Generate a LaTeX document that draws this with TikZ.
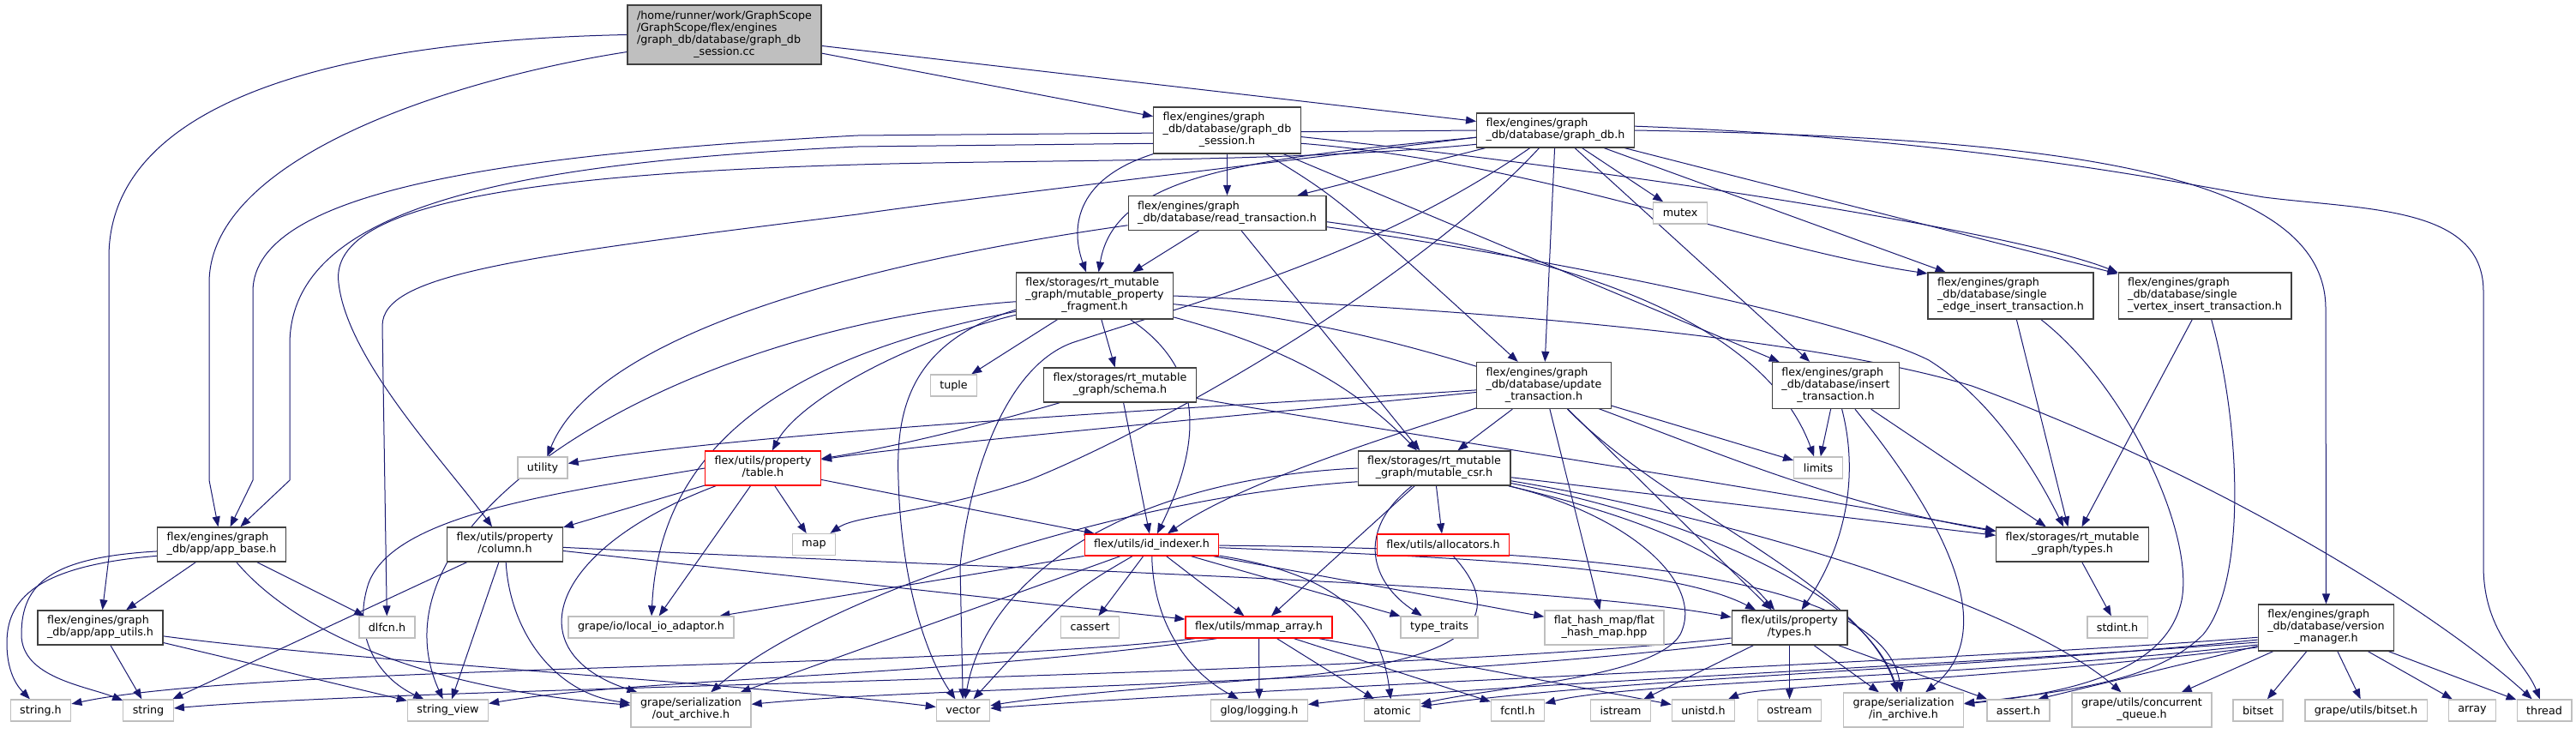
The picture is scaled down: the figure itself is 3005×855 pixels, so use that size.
\documentclass[tikz,border=0pt]{standalone}
\usepackage{fontspec}
\setmainfont{DejaVu Sans}
\usepackage{tikz}
\usetikzlibrary{arrows.meta,backgrounds}
\definecolor{azulenlace}{RGB}{25,25,112}
\definecolor{grisborde}{RGB}{64,64,64}
\definecolor{grisclaro}{RGB}{191,191,191}
\newcommand{\gfont}{\fontsize{12.7}{14}\selectfont}
\newcommand{\flab}[1]{\begin{tabular}{@{}l@{}}#1\end{tabular}}
\newcommand{\ctr}[1]{\multicolumn{1}{@{}c@{}}{#1}}

\begin{document}
\begin{tikzpicture}[x=1pt, y=-1pt, >={Triangle[length=12pt,width=9pt]},
    fnode/.style={draw=grisborde, line width=1.3pt, fill=white, font=\gfont,
      inner xsep=11pt, inner ysep=0pt, minimum height=25pt},
    snode/.style={fnode, draw=grisclaro},
    rnode/.style={fnode, draw=red},
    rootn/.style={fnode, fill=grisclaro, minimum height=69pt},
    two/.style={minimum height=40pt},
    three/.style={minimum height=54pt},
    inc/.style={->, draw=azulenlace, line width=1pt}]
    \useasboundingbox (0,0) rectangle (3005,855);
    % fichero de partida
    \node[rootn] (root) at (845,40.5) {\flab{/home/runner/work/GraphScope\\/GraphScope/flex/engines\\/graph\_db/database/graph\_db\\\ctr{\_session.cc}}};
    % cabeceras de la base de datos
    \node[fnode,three] (sess) at (1431.5,152) {\flab{flex/engines/graph\\\_db/database/graph\_db\\\ctr{\_session.h}}};
    \node[fnode,two] (gdb) at (1814.5,152) {\flab{flex/engines/graph\\\_db/database/graph\_db.h}};
    \node[fnode,two] (readtx) at (1431.5,248.5) {\flab{flex/engines/graph\\\_db/database/read\_transaction.h}};
    \node[snode] (mutex) at (1960,248.5) {mutex};
    \node[fnode,three] (mpf) at (1277,345) {\flab{flex/storages/rt\_mutable\\\_graph/mutable\_property\\\ctr{\_fragment.h}}};
    \node[fnode,three] (sedge) at (2345.5,345) {\flab{flex/engines/graph\\\_db/database/single\\\ctr{\_edge\_insert\_transaction.h}}};
    \node[fnode,three] (svert) at (2572,345) {\flab{flex/engines/graph\\\_db/database/single\\\ctr{\_vertex\_insert\_transaction.h}}};
    \node[snode] (tuple) at (1112.5,449.5) {tuple};
    \node[fnode,two] (schema) at (1306.5,449) {\flab{flex/storages/rt\_mutable\\\ctr{\_graph/schema.h}}};
    \node[fnode,three] (update) at (1801,449.5) {\flab{flex/engines/graph\\\_db/database/update\\\ctr{\_transaction.h}}};
    \node[fnode,three] (insert) at (2141.5,449.5) {\flab{flex/engines/graph\\\_db/database/insert\\\ctr{\_transaction.h}}};
    % fila media
    \node[fnode,two] (mcsr) at (1673,546) {\flab{flex/storages/rt\_mutable\\\ctr{\_graph/mutable\_csr.h}}};
    \node[snode] (limits) at (2121,545.5) {limits};
    \node[snode] (utility) at (633,545.5) {utility};
    \node[rnode,two] (table) at (890,546) {\flab{flex/utils/property\\\ctr{/table.h}}};
    \node[snode] (map) at (949.5,635) {map};
    \node[fnode,two] (appbase) at (258.5,635) {\flab{flex/engines/graph\\\_db/app/app\_base.h}};
    \node[fnode,two] (column) at (589,635) {\flab{flex/utils/property\\\ctr{/column.h}}};
    \node[rnode] (idx) at (1343.5,635.5) {flex/utils/id\_indexer.h};
    \node[rnode] (alloc) at (1683.5,635.5) {flex/utils/allocators.h};
    \node[fnode,two] (rtypes) at (2417.5,635) {\flab{flex/storages/rt\_mutable\\\ctr{\_graph/types.h}}};
    \node[fnode,two] (apputils) at (117,732) {\flab{flex/engines/graph\\\_db/app/app\_utils.h}};
    \node[snode] (dlfcn) at (451.5,731.5) {dlfcn.h};
    \node[snode] (lio) at (759.5,731.5) {grape/io/local\_io\_adaptor.h};
    \node[snode] (cassert) at (1271.5,731.5) {cassert};
    \node[rnode] (mmap) at (1468.5,731.5) {flex/utils/mmap\_array.h};
    \node[snode] (ttraits) at (1679,731.5) {type\_traits};
    \node[snode,two] (fhm) at (1871.5,732) {\flab{flat\_hash\_map/flat\\\ctr{\_hash\_map.hpp}}};
    \node[fnode,two] (ptypes) at (2087.5,732) {\flab{flex/utils/property\\\ctr{/types.h}}};
    \node[snode] (stdint) at (2470,731.5) {stdint.h};
    \node[fnode,three] (vm) at (2713.5,732) {\flab{flex/engines/graph\\\_db/database/version\\\ctr{\_manager.h}}};
    % cabeceras del sistema y de grape (fila inferior)
    \node[snode] (strh) at (47.5,828.5) {string.h};
    \node[snode] (string) at (173,828.5) {string};
    \node[snode] (sview) at (522.5,828.5) {string\_view};
    \node[snode,two] (oarch) at (806,828) {\flab{grape/serialization\\\ctr{/out\_archive.h}}};
    \node[snode] (vector) at (1123.5,828.5) {vector};
    \node[snode] (glog) at (1469,828.5) {glog/logging.h};
    \node[snode] (atomic) at (1624,828.5) {atomic};
    \node[snode] (fcntl) at (1770.5,828.5) {fcntl.h};
    \node[snode] (istream) at (1890.5,828.5) {istream};
    \node[snode] (unistd) at (1987,828.5) {unistd.h};
    \node[snode] (ostream) at (2087.5,828.5) {ostream};
    \node[snode,two] (iarch) at (2220.5,828) {\flab{grape/serialization\\\ctr{/in\_archive.h}}};
    \node[snode] (asserth) at (2354.5,828.5) {assert.h};
    \node[snode,two] (cqueue) at (2498.5,828) {\flab{grape/utils/concurrent\\\ctr{\_queue.h}}};
    \node[snode] (bitset) at (2634,828.5) {bitset};
    \node[snode] (gbitset) at (2760,828.5) {grape/utils/bitset.h};
    \node[snode] (array) at (2884,828.5) {array};
    \node[snode] (thread) at (2968,828.5) {thread};

    \begin{pgfonlayer}{background}
    % includes del .cc
    \draw[inc] (root) -- (sess);
    \draw[inc] (root) -- (gdb);
    \draw[inc] (root.west) .. controls (360,48) and (127,130) .. (127,300) -- (127,650) -- (apputils);
    \draw[inc] (root.190) .. controls (540,90) and (244,180) .. (244,330) -- (244,560) -- (appbase);
    % graph_db_session.h
    \draw[inc] (sess) -- (readtx);
    \draw[inc] (sess) .. controls (1250,210) and (1250,270) .. (mpf);
    \draw[inc] (sess.190) -- (1000,171) .. controls (600,190) and (340,240) .. (338,400) -- (338,560) -- (appbase);
    \draw[inc] (sess) .. controls (1560,230) .. (update);
    \draw[inc] (sess) -- (insert);
    \draw[inc] (sess.-10) .. controls (1800,190) and (2050,290) .. (sedge.165);
    \draw[inc] (sess.-5) .. controls (1900,200) and (2350,270) .. (svert.165);
    % graph_db.h
    \draw[inc] (gdb) -- (readtx);
    \draw[inc] (gdb) -- (mutex);
    \draw[inc] (gdb) .. controls (1450,185) and (1300,205) .. (mpf);
    \draw[inc] (gdb) -- (update);
    \draw[inc] (gdb) -- (insert);
    \draw[inc] (gdb) -- (sedge);
    \draw[inc] (gdb) -- (svert);
    \draw[inc] (gdb.west) -- (1000,158) .. controls (600,180) and (295,220) .. (295,340) -- (295,560) -- (appbase);
    \draw[inc] (gdb.190) .. controls (1500,190) and (1200,186) .. (1000,192) .. controls (550,205) and (385,250) .. (395,330) .. controls (405,420) and (520,540) .. (column);
    \draw[inc] (gdb.185) .. controls (1400,200) and (1100,235) .. (1000,250) .. controls (600,300) and (446,320) .. (446,380) -- (dlfcn);
    \draw[inc] (gdb.east) .. controls (2400,160) and (2713,200) .. (2713,360) -- (vm);
    \draw[inc] (gdb.3) .. controls (2300,162) and (2550,215) .. (2641,230) .. controls (2760,245) and (2897,240) .. (2897,340) -- (2897,660) .. controls (2897,740) and (2945,770) .. (thread);
    \draw[inc] (gdb) .. controls (1600,300) and (1400,350) .. (1250,400) .. controls (1170,430) and (1130,560) .. (1120,660) -- (vector);
    \draw[inc] (gdb) .. controls (1650,330) and (1350,500) .. (1200,560) .. controls (1080,600) and (1000,600) .. (map);
    % read_transaction.h
    \draw[inc] (readtx) -- (mpf);
    \draw[inc] (readtx) -- (mcsr);
    \draw[inc] (readtx.187) .. controls (1050,300) and (700,380) .. (utility);
    \draw[inc] (readtx) .. controls (1800,300) and (2150,370) .. (2250,420) .. controls (2330,470) and (2380,560) .. (rtypes);
    \draw[inc] (readtx.-5) .. controls (1850,300) and (2060,380) .. (limits);
    % mutable_property_fragment.h
    \draw[inc] (mpf) -- (tuple);
    \draw[inc] (mpf) -- (schema);
    \draw[inc] (mpf) .. controls (1480,400) and (1570,440) .. (mcsr);
    \draw[inc] (mpf) .. controls (1420,440) and (1390,540) .. (idx);
    \draw[inc] (mpf) .. controls (1050,400) and (930,470) .. (table);
    \draw[inc] (mpf.190) .. controls (1060,400) and (1045,480) .. (1048,560) .. controls (1052,700) and (1090,780) .. (vector);
    \draw[inc] (mpf) .. controls (950,410) and (770,500) .. (lio);
    \draw[inc] (mpf) .. controls (800,380) and (420,600) .. (sview);
    \draw[inc] (mpf.east) .. controls (1700,360) and (2100,390) .. (2300,450) .. controls (2600,560) and (2850,720) .. (thread);
    \draw[inc] (mpf) .. controls (1800,400) and (1980,560) .. (rtypes);
    % schema.h
    \draw[inc] (schema) -- (idx);
    \draw[inc] (schema) .. controls (1150,495) and (1050,520) .. (table);
    \draw[inc] (schema) .. controls (1600,500) and (2000,560) .. (rtypes);
    % update_transaction.h
    \draw[inc] (update) -- (mcsr);
    \draw[inc] (update) .. controls (1500,470) and (900,500) .. (utility);
    \draw[inc] (update) .. controls (1500,480) and (1100,515) .. (table);
    \draw[inc] (update) .. controls (1650,500) and (1450,560) .. (idx);
    \draw[inc] (update) -- (fhm);
    \draw[inc] (update) -- (limits);
    \draw[inc] (update) -- (ptypes);
    \draw[inc] (update) .. controls (1950,600) and (2170,680) .. (iarch);
    % insert_transaction.h
    \draw[inc] (insert) -- (limits);
    \draw[inc] (insert) -- (rtypes);
    \draw[inc] (insert) .. controls (2170,560) and (2150,640) .. (ptypes);
    \draw[inc] (insert) .. controls (2280,620) and (2330,740) .. (iarch);
    % single_*_insert_transaction.h
    \draw[inc] (sedge) -- (rtypes);
    \draw[inc] (sedge) .. controls (2480,450) and (2560,620) .. (2545,700) .. controls (2530,770) and (2450,805) .. (iarch);
    \draw[inc] (svert) -- (rtypes);
    \draw[inc] (svert) .. controls (2615,500) and (2620,680) .. (2570,740) .. controls (2520,790) and (2430,805) .. (iarch);
    % mutable_csr.h
    \draw[inc] (mcsr) -- (alloc);
    \draw[inc] (mcsr) -- (mmap);
    \draw[inc] (mcsr) .. controls (1580,620) and (1600,680) .. (ttraits);
    \draw[inc] (mcsr.west) .. controls (1300,560) and (1150,680) .. (vector);
    \draw[inc] (mcsr.190) .. controls (1300,580) and (950,700) .. (oarch);
    \draw[inc] (mcsr) .. controls (1900,600) and (1990,680) .. (1960,740) .. controls (1930,790) and (1750,800) .. (atomic);
    \draw[inc] (mcsr) -- (rtypes);
    \draw[inc] (mcsr) .. controls (1900,600) and (2010,640) .. (ptypes);
    \draw[inc] (mcsr) .. controls (2000,610) and (2180,700) .. (iarch);
    \draw[inc] (mcsr) .. controls (2000,600) and (2350,700) .. (cqueue);
    % property/table.h
    \draw[inc] (table) -- (column);
    \draw[inc] (table) -- (idx);
    \draw[inc] (table) -- (map);
    \draw[inc] (table) -- (lio);
    \draw[inc] (table) .. controls (640,640) and (600,760) .. (oarch);
    \draw[inc] (table.west) .. controls (650,575) and (460,600) .. (430,680) .. controls (410,740) and (440,790) .. (sview);
    % property/column.h
    \draw[inc] (column) -- (string);
    \draw[inc] (column) -- (sview);
    \draw[inc] (column) .. controls (595,740) and (650,810) .. (oarch);
    \draw[inc] (column) -- (mmap);
    \draw[inc] (column) .. controls (1200,665) and (1800,680) .. (ptypes);
    % id_indexer.h
    \draw[inc] (idx) -- (cassert);
    \draw[inc] (idx) -- (mmap);
    \draw[inc] (idx) -- (ttraits);
    \draw[inc] (idx) -- (fhm);
    \draw[inc] (idx) .. controls (1250,690) .. (vector);
    \draw[inc] (idx) .. controls (1345,720) and (1380,780) .. (glog);
    \draw[inc] (idx) .. controls (1560,670) and (1610,720) .. (atomic);
    \draw[inc] (idx) -- (lio);
    \draw[inc] (idx) -- (oarch);
    \draw[inc] (idx) .. controls (1700,650) and (1950,660) .. (ptypes);
    \draw[inc] (idx) .. controls (1900,640) and (2200,680) .. (iarch);
    % mmap_array.h
    \draw[inc] (mmap) -- (glog);
    \draw[inc] (mmap) -- (atomic);
    \draw[inc] (mmap) -- (fcntl);
    \draw[inc] (mmap) -- (unistd);
    \draw[inc] (mmap.190) .. controls (1100,780) and (300,775) .. (strh);
    \draw[inc] (mmap.195) .. controls (1100,790) and (750,790) .. (sview);
    % allocators.h
    \draw[inc] (alloc) .. controls (1760,720) and (1720,770) .. (1500,790) .. controls (1300,805) and (1200,815) .. (vector);
    % property/types.h
    \draw[inc] (ptypes) -- (ostream);
    \draw[inc] (ptypes) -- (istream);
    \draw[inc] (ptypes) -- (iarch);
    \draw[inc] (ptypes) -- (asserth);
    \draw[inc] (ptypes.190) .. controls (1600,790) and (500,800) .. (string);
    \draw[inc] (ptypes.195) .. controls (1600,800) and (1100,800) .. (oarch);
    % rt_mutable_graph/types.h
    \draw[inc] (rtypes) -- (stdint);
    % version_manager.h
    \draw[inc] (vm) -- (bitset);
    \draw[inc] (vm) -- (gbitset);
    \draw[inc] (vm) -- (array);
    \draw[inc] (vm) -- (thread);
    \draw[inc] (vm) -- (cqueue);
    \draw[inc] (vm.195) -- (asserth.30);
    \draw[inc] (vm.190) .. controls (2300,780) and (1900,790) .. (atomic);
    \draw[inc] (vm.188) .. controls (2300,770) and (1500,800) .. (vector);
    \draw[inc] (vm.192) .. controls (2300,775) and (1700,800) .. (glog);
    \draw[inc] (vm.194) .. controls (2300,790) and (1900,795) .. (fcntl);
    \draw[inc] (vm.196) .. controls (2300,795) and (2050,800) .. (unistd);
    % app_base.h y app_utils.h
    \draw[inc] (appbase) -- (apputils);
    \draw[inc] (appbase) -- (dlfcn);
    \draw[inc] (appbase.190) .. controls (40,660) and (8,700) .. (8,750) .. controls (8,790) and (25,805) .. (strh);
    \draw[inc] (appbase.186) .. controls (60,650) and (25,680) .. (25,740) .. controls (25,790) and (100,800) .. (string);
    \draw[inc] (appbase) .. controls (330,720) and (460,800) .. (oarch);
    \draw[inc] (apputils) -- (string);
    \draw[inc] (apputils) -- (sview);
    \draw[inc] (apputils) .. controls (400,770) and (900,800) .. (vector);
    \end{pgfonlayer}
\end{tikzpicture}
\end{document}
